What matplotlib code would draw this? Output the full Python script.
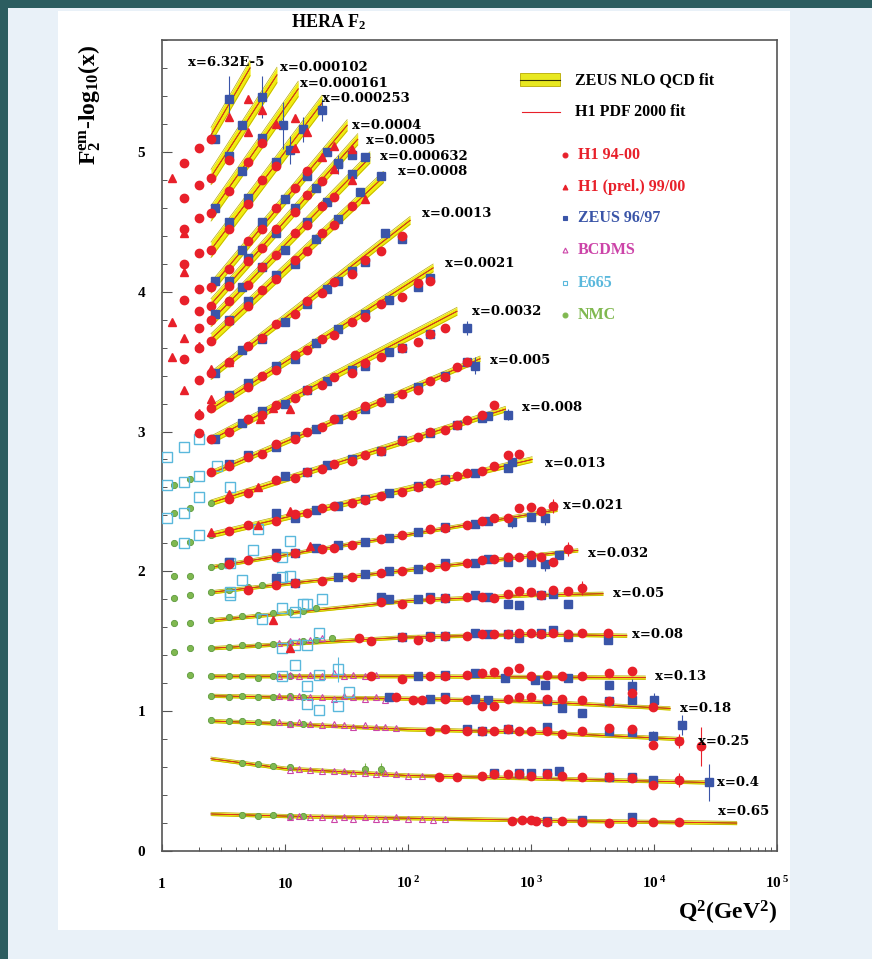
import matplotlib.pyplot as plt
import matplotlib.patches as mpatches
from matplotlib.ticker import LogLocator, MultipleLocator, NullFormatter
import numpy as np

plt.rcParams['font.family'] = ['Liberation Serif', 'DejaVu Serif']
plt.rcParams['mathtext.fontset'] = 'custom'
plt.rcParams['mathtext.rm'] = 'Liberation Serif'
plt.rcParams['mathtext.it'] = 'Liberation Serif:italic'
plt.rcParams['mathtext.bf'] = 'Liberation Serif:bold'

# x bins (labels), top to bottom
bins_x = ['6.32E-5', '0.000102', '0.000161', '0.000253', '0.0004', '0.0005', '0.000632',
          '0.0008', '0.0013', '0.0021', '0.0032', '0.005', '0.008', '0.013', '0.021',
          '0.032', '0.05', '0.08', '0.13', '0.18', '0.25', '0.4', '0.65']
label_q2 = [1.63, 9.1, 13.2, 20, 35, 45.6, 59, 83, 130, 200, 330, 465, 845, 1300, 1820,
            2900, 4640, 6620, 10200, 16300, 22800, 32500, 33100]
label_y = [5.64, 5.60, 5.49, 5.38, 5.19, 5.08, 4.97, 4.86, 4.56, 4.20, 3.86, 3.51, 3.17,
           2.77, 2.47, 2.13, 1.84, 1.55, 1.25, 1.02, 0.78, 0.49, 0.28]

# fits (knots)
fit_q2 = [[2.5, 5.2], [2.5, 8.6], [2.5, 12.8], [2.5, 20], [2.5, 32], [2.5, 39], [2.5, 49],
          [2.5, 63], [2.5, 104], [2.5, 160], [2.5, 250], [2.5, 385], [2.5, 620], [2.5, 1020],
          [2.5, 1630], [2.5, 100, 2400], [2.5, 10, 100, 1000, 3850],
          [2.5, 10, 100, 1000, 6000], [2.5, 100, 8500], [2.5, 10, 100, 1000, 13500],
          [2.5, 10, 100, 1000, 17300], [2.5, 10, 100, 1000, 28000],
          [2.5, 10, 100, 1000, 47000]]
fit_y = [[5.12, 5.60], [4.82, 5.55], [4.56, 5.45], [4.30, 5.35], [4.03, 5.19], [3.91, 5.09],
         [3.79, 4.96], [3.66, 4.82], [3.40, 4.51], [3.16, 4.17], [2.94, 3.86], [2.70, 3.52],
         [2.49, 3.16], [2.26, 2.80], [2.03, 2.44], [1.85, 2.01, 2.15],
         [1.65, 1.70, 1.79, 1.83, 1.84], [1.45, 1.48, 1.53, 1.55, 1.54], [1.25, 1.25, 1.24],
         [1.11, 1.10, 1.09, 1.07, 1.02], [0.93, 0.91, 0.87, 0.85, 0.80],
         [0.66, 0.59, 0.54, 0.52, 0.49], [0.265, 0.25, 0.235, 0.22, 0.20]]
band_w = [0.055] * 4 + [0.04] * 4 + [0.028] * 3 + [0.02] * 3 + [0.012] * 9

# H1 94-00
h1_q2 = [[1.5, 2.0, 2.5], [1.5, 2.0, 2.5, 3.5], [1.5, 2.0, 2.5, 3.5, 5.0, 6.5],
         [1.5, 2.0, 2.5, 3.5, 5.0, 6.5, 8.5], [1.5, 2.0, 2.5, 3.5, 5.0, 6.5, 8.5, 12, 15],
         [2.0, 2.5, 3.5, 5.0, 6.5, 8.5, 12, 15, 20],
         [2.0, 2.5, 3.5, 5.0, 6.5, 8.5, 12, 15, 20, 25],
         [1.5, 2.0, 2.5, 3.5, 5.0, 6.5, 8.5, 12, 15, 20, 25, 35],
         [2.0, 2.5, 3.5, 5.0, 6.5, 8.5, 12, 15, 20, 25, 35, 45, 60, 90],
         [2.0, 2.5, 3.5, 5.0, 6.5, 8.5, 12, 15, 20, 25, 35, 45, 60, 90, 120, 150],
         [2.0, 2.5, 3.5, 5.0, 6.5, 8.5, 12, 15, 20, 25, 35, 45, 60, 90, 120, 150, 200],
         [2.5, 3.5, 5.0, 6.5, 8.5, 12, 15, 20, 25, 35, 45, 60, 90, 120, 150, 200, 250, 300],
         [3.5, 5.0, 8.5, 12, 15, 20, 25, 35, 45, 60, 90, 120, 150, 200, 250, 300, 400, 500],
         [3.5, 5.0, 8.5, 12, 15, 20, 25, 35, 45, 60, 90, 120, 150, 200, 250, 300, 400, 500,
          650, 800],
         [3.5, 5.0, 8.5, 12, 20, 25, 35, 60, 90, 150, 200, 300, 400, 500, 650, 800, 1000,
          1200, 1500],
         [5.0, 8.5, 12, 20, 35, 60, 90, 150, 200, 300, 400, 500, 650, 800, 1000, 1200, 1500,
          2000],
         [60, 90, 150, 200, 300, 400, 500, 650, 800, 1000, 1200, 1500, 2000, 2600],
         [40, 50, 90, 120, 150, 200, 300, 400, 500, 650, 800, 1000, 1200, 1500, 2000, 2600,
          4200],
         [50, 90, 150, 200, 300, 400, 500, 650, 800, 1000, 1350, 1800, 2600, 4300, 6600],
         [80, 110, 130, 200, 300, 400, 500, 650, 800, 1000, 1350, 1800, 2600, 4300, 6600,
          9800],
         [150, 200, 300, 400, 500, 650, 800, 1000, 1350, 1800, 2600, 4300, 6600, 9800,
          16000, 24000],
         [180, 250, 400, 500, 650, 800, 1000, 1350, 1800, 2600, 4300, 6600, 9800, 16000],
         [700, 840, 1000, 1100, 1350, 1800, 2600, 4300, 6600, 9800, 16000]]
h1_y = [[4.92, 5.03, 5.09], [4.67, 4.76, 4.81, 4.94], [4.45, 4.53, 4.56, 4.72, 4.93, 5.06],
        [4.20, 4.28, 4.30, 4.45, 4.63, 4.80, 4.90],
        [3.94, 4.02, 4.03, 4.16, 4.36, 4.45, 4.60, 4.74, 4.86],
        [3.86, 3.90, 4.04, 4.22, 4.31, 4.45, 4.57, 4.69, 4.79],
        [3.74, 3.80, 3.93, 4.05, 4.18, 4.26, 4.42, 4.48, 4.61, 4.68],
        [3.52, 3.60, 3.65, 3.79, 3.90, 4.01, 4.09, 4.23, 4.29, 4.42, 4.48, 4.61],
        [3.37, 3.42, 3.50, 3.61, 3.67, 3.77, 3.84, 3.93, 3.99, 4.07, 4.13, 4.23, 4.29, 4.40],
        [3.12, 3.17, 3.25, 3.32, 3.40, 3.44, 3.55, 3.58, 3.66, 3.69, 3.78, 3.82, 3.91, 3.96,
         4.06, 4.08],
        [2.99, 2.95, 3.00, 3.09, 3.12, 3.19, 3.24, 3.30, 3.33, 3.39, 3.42, 3.49, 3.53, 3.60,
         3.64, 3.70, 3.74],
        [2.71, 2.75, 2.82, 2.84, 2.91, 2.95, 3.00, 3.03, 3.09, 3.12, 3.18, 3.21, 3.27, 3.30,
         3.36, 3.39, 3.46, 3.50],
        [2.52, 2.56, 2.65, 2.67, 2.71, 2.73, 2.77, 2.79, 2.83, 2.86, 2.93, 2.96, 3.00, 3.01,
         3.05, 3.08, 3.12, 3.19],
        [2.29, 2.33, 2.36, 2.41, 2.42, 2.45, 2.47, 2.49, 2.51, 2.54, 2.57, 2.60, 2.63, 2.65,
         2.68, 2.70, 2.72, 2.75, 2.83, 2.84],
        [2.05, 2.08, 2.10, 2.13, 2.16, 2.17, 2.19, 2.23, 2.26, 2.30, 2.31, 2.33, 2.36, 2.38,
         2.38, 2.45, 2.46, 2.43, 2.47],
        [1.87, 1.90, 1.92, 1.93, 1.96, 1.99, 2.00, 2.03, 2.04, 2.06, 2.08, 2.09, 2.10, 2.10,
         2.12, 2.10, 2.07, 2.16],
        [1.78, 1.77, 1.80, 1.81, 1.82, 1.82, 1.81, 1.84, 1.86, 1.85, 1.83, 1.87, 1.86, 1.88],
        [1.52, 1.50, 1.53, 1.51, 1.53, 1.54, 1.54, 1.55, 1.55, 1.55, 1.56, 1.56, 1.55, 1.56,
         1.55, 1.56, 1.56],
        [1.25, 1.23, 1.25, 1.25, 1.26, 1.27, 1.28, 1.29, 1.31, 1.25, 1.26, 1.25, 1.25, 1.27,
         1.29],
        [1.10, 1.08, 1.08, 1.09, 1.08, 1.04, 1.04, 1.09, 1.10, 1.10, 1.09, 1.09, 1.08, 1.07,
         1.13, 1.03],
        [0.86, 0.87, 0.86, 0.86, 0.86, 0.87, 0.86, 0.86, 0.86, 0.84, 0.86, 0.88, 0.87, 0.76,
         0.79, 0.75],
        [0.53, 0.53, 0.54, 0.55, 0.55, 0.55, 0.54, 0.55, 0.54, 0.53, 0.53, 0.52, 0.47, 0.51],
        [0.215, 0.22, 0.22, 0.215, 0.21, 0.215, 0.205, 0.20, 0.21, 0.205, 0.205]]

# H1 (prel.) 99/00
h1p_q2 = [[1.2, 3.5, 5.0], [5.0, 6.5], [1.5, 8.5, 12], [1.5, 12, 15], [20, 25],
          [1.2, 25, 35], [1.5, 35], [1.2, 2.0, 45], [1.5, 2.5, 3.5], [2.0, 2.5],
          [6.3, 8.0, 11], [3.5], [3.5, 6.0], [2.5, 6.0, 11], [16], [], [8.0], [11],
          [], [], [], [], []]
h1p_y = [[4.81, 5.25, 5.38], [5.14, 5.30], [4.42, 5.20, 5.24], [4.14, 5.03, 5.14],
         [4.96, 5.04], [3.78, 4.88, 5.02], [3.67, 4.80], [3.53, 3.61, 4.66],
         [3.30, 3.45, 3.50], [3.13, 3.23], [3.09, 3.17, 3.16], [2.77], [2.55, 2.60],
         [2.28, 2.33, 2.43], [2.18], [], [1.65], [1.45], [], [], [], [], []]

# ZEUS 96/97
zeus_q2 = [[2.7, 3.5], [3.5, 4.5, 6.5], [2.7, 4.5, 6.5, 9.6], [3.5, 5.0, 8.5, 11, 14, 20],
           [2.7, 4.5, 6.5, 10, 15, 22, 27], [3.5, 5.0, 8.5, 12, 18, 27, 35],
           [2.7, 4.5, 6.5, 10, 15, 22, 35, 45], [3.5, 5.0, 8.5, 12, 18, 27, 41, 60],
           [2.7, 4.5, 6.5, 10, 15, 22, 27, 35, 45, 65, 90],
           [3.5, 5.0, 8.5, 12, 18, 27, 45, 70, 120, 150],
           [2.7, 4.5, 6.5, 10, 15, 22, 35, 45, 70, 90, 150, 300],
           [3.5, 5.0, 8.5, 12, 18, 27, 45, 70, 120, 200, 300, 350],
           [10, 15, 22, 35, 60, 90, 150, 250, 400, 450, 650],
           [8.5, 12, 18, 27, 45, 70, 120, 200, 350, 650, 700],
           [3.5, 8.5, 12, 18, 27, 45, 70, 120, 200, 350, 450, 700, 1000, 1300],
           [8.5, 12, 27, 45, 70, 120, 200, 350, 450, 650, 1000, 1300, 1700],
           [60, 70, 120, 150, 200, 350, 450, 650, 800, 1200, 1500, 2000],
           [90, 150, 200, 350, 450, 650, 800, 1200, 1500, 2000, 4200],
           [120, 200, 350, 620, 1070, 1300, 2000, 4300, 6600],
           [70, 150, 200, 350, 450, 1350, 1800, 2600, 4300, 6600, 10000, 17000],
           [300, 400, 650, 1350, 4300, 6600, 9800],
           [500, 800, 1000, 1350, 1700, 4300, 6600, 9800, 28000],
           [1350, 2600, 6600]]
zeus_y = [[5.09, 5.38], [4.97, 5.19, 5.39], [4.60, 4.86, 5.10, 5.19],
          [4.50, 4.67, 4.93, 5.01, 5.16, 5.30], [4.08, 4.30, 4.50, 4.66, 4.83, 5.00, 4.91],
          [4.08, 4.24, 4.42, 4.60, 4.74, 4.92, 4.98],
          [3.84, 4.03, 4.18, 4.30, 4.50, 4.64, 4.84, 4.96],
          [3.80, 3.93, 4.12, 4.20, 4.38, 4.52, 4.71, 4.83],
          [3.42, 3.58, 3.66, 3.78, 3.91, 4.02, 4.08, 4.15, 4.21, 4.42, 4.38],
          [3.26, 3.35, 3.47, 3.52, 3.63, 3.73, 3.84, 3.94, 4.03, 4.10],
          [2.95, 3.06, 3.15, 3.20, 3.30, 3.36, 3.44, 3.47, 3.57, 3.60, 3.70, 3.74],
          [2.77, 2.83, 2.89, 2.97, 3.02, 3.09, 3.16, 3.24, 3.32, 3.40, 3.50, 3.47],
          [2.68, 2.71, 2.76, 2.80, 2.86, 2.94, 2.99, 3.05, 3.10, 3.11, 3.12],
          [2.42, 2.38, 2.44, 2.47, 2.52, 2.56, 2.61, 2.66, 2.70, 2.74, 2.78],
          [2.07, 2.13, 2.13, 2.17, 2.19, 2.21, 2.24, 2.28, 2.32, 2.34, 2.36, 2.35, 2.39, 2.38],
          [1.95, 1.92, 1.96, 1.98, 2.00, 2.02, 2.06, 2.06, 2.09, 2.07, 2.07, 2.05, 2.12],
          [1.82, 1.80, 1.80, 1.82, 1.81, 1.83, 1.82, 1.77, 1.76, 1.83, 1.84, 1.77],
          [1.53, 1.54, 1.54, 1.56, 1.55, 1.55, 1.52, 1.56, 1.58, 1.53, 1.51],
          [1.25, 1.26, 1.27, 1.24, 1.22, 1.19, 1.24, 1.19, 1.18],
          [1.10, 1.09, 1.10, 1.09, 1.08, 1.07, 1.02, 0.99, 1.07, 1.08, 1.08, 0.90],
          [0.87, 0.86, 0.87, 0.89, 0.86, 0.85, 0.82],
          [0.56, 0.56, 0.56, 0.56, 0.57, 0.53, 0.53, 0.51, 0.49],
          [0.215, 0.22, 0.24]]

# BCDMS
bcdms_q2 = [[]] * 17 + [[9, 11, 13, 16, 20],
                        [9, 11, 13, 16, 20, 25, 30, 36, 45, 55],
                        [9, 11, 13, 16, 20, 25, 30, 36, 45, 55, 65],
                        [9, 11, 13, 16, 20, 25, 30, 36, 45, 55, 65, 80],
                        [11, 13, 16, 20, 25, 30, 36, 45, 55, 65, 80, 100, 130],
                        [11, 13, 16, 20, 25, 30, 36, 45, 55, 65, 80, 100, 130, 160, 200]]
bcdms_y = [[]] * 17 + [[1.49, 1.50, 1.50, 1.51, 1.52],
                       [1.25, 1.26, 1.25, 1.26, 1.25, 1.27, 1.25, 1.26, 1.25, 1.26],
                       [1.11, 1.10, 1.11, 1.10, 1.10, 1.09, 1.11, 1.10, 1.09, 1.10, 1.08],
                       [0.92, 0.91, 0.92, 0.91, 0.90, 0.91, 0.90, 0.89, 0.90, 0.89, 0.89, 0.88],
                       [0.58, 0.59, 0.58, 0.57, 0.57, 0.57, 0.56, 0.56, 0.55, 0.56, 0.55, 0.54,
                        0.54],
                       [0.24, 0.25, 0.24, 0.24, 0.23, 0.24, 0.23, 0.24, 0.23, 0.23, 0.24, 0.23,
                        0.23, 0.22, 0.23]]

# E665
e665_q2 = [[]] * 10 + [[1.1, 1.5, 2.0], [1.1, 1.5, 2.0, 2.8], [1.1, 1.5, 2.0, 3.6],
                       [1.5, 2.0, 6.0, 11], [3.6, 5.5, 9.5, 11], [3.6, 4.5, 9.5, 14, 20],
                       [3.6, 6.5, 9.5, 12, 15], [9.5, 12, 15, 19], [9.5, 12, 15, 19, 27],
                       [15, 19, 27, 33], [], [], []]
e665_y = [[]] * 10 + [[2.82, 2.89, 2.95], [2.62, 2.64, 2.68, 2.75], [2.38, 2.42, 2.53, 2.60],
                      [2.20, 2.26, 2.30, 2.22], [2.06, 2.15, 2.10, 1.97],
                      [1.85, 1.94, 1.96, 1.77, 1.80], [1.83, 1.66, 1.74, 1.71, 1.77],
                      [1.45, 1.47, 1.47, 1.56], [1.25, 1.33, 1.18, 1.26, 1.30],
                      [1.05, 1.01, 1.04, 1.14], [], [], []]

# NMC
nmc_q2 = [[]] * 11 + [[1.25, 1.7, 2.5], [1.25, 1.7, 2.5], [1.25, 1.7, 2.5],
                      [1.25, 1.7, 2.5, 3.0], [1.25, 1.7, 2.5, 3.5, 5, 6.5, 8.5],
                      [1.25, 1.7, 2.5, 3.5, 4.5, 6, 8, 11, 14, 18],
                      [1.25, 1.7, 2.5, 3.5, 4.5, 6, 8, 11, 14, 18, 24],
                      [1.7, 2.5, 3.5, 4.5, 6, 8, 11], [2.5, 3.5, 4.5, 6, 8, 11, 14],
                      [2.5, 3.5, 4.5, 6, 8, 11, 14], [4.5, 6, 8, 11, 45, 60],
                      [4.5, 6, 8, 11, 14]]
nmc_y = [[]] * 11 + [[2.62, 2.66, 2.71], [2.42, 2.45, 2.49], [2.20, 2.21, 2.26],
                     [1.97, 1.97, 2.03, 2.04], [1.81, 1.83, 1.85, 1.87, 1.89, 1.90, 1.91],
                     [1.63, 1.63, 1.65, 1.67, 1.68, 1.69, 1.70, 1.71, 1.72, 1.74],
                     [1.42, 1.45, 1.45, 1.46, 1.47, 1.47, 1.48, 1.49, 1.50, 1.51, 1.52],
                     [1.26, 1.25, 1.25, 1.25, 1.24, 1.25, 1.25],
                     [1.11, 1.10, 1.11, 1.10, 1.10, 1.11, 1.10],
                     [0.94, 0.93, 0.93, 0.92, 0.92, 0.91, 0.91],
                     [0.63, 0.62, 0.61, 0.60, 0.59, 0.59], [0.26, 0.25, 0.26, 0.25, 0.25]]

# visible error bars
err_src = ['zeus', 'zeus', 'zeus', 'zeus', 'zeus', 'zeus', 'zeus', 'zeus', 'zeus', 'zeus',
           'zeus', 'zeus', 'zeus', 'h1', 'h1', 'h1', 'zeus', 'zeus', 'zeus', 'h1', 'h1',
           'zeus', 'h1', 'e665', 'nmc', 'nmc', 'zeus']
err_q2 = [3.5, 6.5, 9.6, 14, 11, 20, 27, 300, 350, 650, 700, 1300, 1300, 1500, 2000, 2600,
          6600, 10000, 17000, 16000, 24000, 28000, 16000, 27, 45, 60, 9800]
err_y = [5.38, 5.39, 5.19, 5.16, 5.01, 5.30, 4.91, 3.74, 3.47, 3.12, 2.35, 2.38, 2.05, 2.47,
         2.16, 1.88, 1.18, 1.08, 0.90, 0.79, 0.75, 0.49, 0.51, 1.30, 0.59, 0.59, 0.82]
err_size = [0.16, 0.15, 0.17, 0.09, 0.10, 0.08, 0.07, 0.05, 0.06, 0.04, 0.04, 0.05, 0.05,
            0.05, 0.05, 0.05, 0.05, 0.05, 0.07, 0.05, 0.14, 0.13, 0.05, 0.09, 0.04, 0.04,
            0.04]

c_h1 = '#e8202a'
c_zeus = '#3a55a8'
c_bcdms = '#cc44a8'
c_e665 = '#5ab8dc'
c_nmc = '#80b850'
src_col = {'h1': c_h1, 'zeus': c_zeus, 'e665': c_e665, 'nmc': c_nmc}

fig = plt.figure(figsize=(8.72, 9.59), dpi=100, facecolor='#e9f1f8')
fig.patches.append(mpatches.Rectangle((0.0665, 0.0302), 0.8394, 0.958, transform=fig.transFigure,
                                      facecolor='white', edgecolor='none', zorder=-2))
fig.patches.append(mpatches.Rectangle((0, 0), 0.0092, 1, transform=fig.transFigure,
                                      facecolor='#2c5d60', edgecolor='none', zorder=-1))
fig.patches.append(mpatches.Rectangle((0, 0.9917), 1, 0.0083, transform=fig.transFigure,
                                      facecolor='#2c5d60', edgecolor='none', zorder=-1))

ax = fig.add_axes([0.1858, 0.1126, 0.7053, 0.8457])
ax.set_facecolor('white')
ax.set_xscale('log')
ax.set_xlim(1, 1e5)
ax.set_ylim(0, 5.8)

# fits
for k in range(len(bins_x)):
    q = np.array(fit_q2[k])
    f = np.array(fit_y[k])
    w = band_w[k]
    ax.fill_between(q, f - w, f + w, color='#f0ec10', lw=0, zorder=2)
    ax.plot(q, f - w, color='#b8aa00', lw=0.5, zorder=2)
    ax.plot(q, f + w, color='#b8aa00', lw=0.5, zorder=2)
    ax.plot(q, f, color='#333300', lw=0.5, zorder=3)
    ax.plot(q, f, color='#e83020', lw=0.7, zorder=3)
    ax.text(label_q2[k], label_y[k], 'x=' + bins_x[k], fontsize=9.5, fontweight='bold',
            family='DejaVu Serif', ha='left', va='center', zorder=6)

# error bars
for s, q, y, e in zip(err_src, err_q2, err_y, err_size):
    ax.errorbar([q], [y], yerr=[e], fmt='none', ecolor=src_col[s], elinewidth=0.8,
                capsize=0, zorder=4)

# data
for k in range(len(bins_x)):
    ax.plot(nmc_q2[k], nmc_y[k], 'o', ms=4.5, mfc=c_nmc, mec='#5c9a3c', mew=0.6, zorder=4)
    ax.plot(bcdms_q2[k], bcdms_y[k], '^', ms=4.5, mfc='none', mec=c_bcdms, mew=0.8, zorder=4)
    ax.plot(e665_q2[k], e665_y[k], 's', ms=7, mfc='none', mec=c_e665, mew=1.0, zorder=4)
    ax.plot(zeus_q2[k], zeus_y[k], 's', ms=5.5, mfc=c_zeus, mec=c_zeus, zorder=5)
    ax.plot(h1p_q2[k], h1p_y[k], '^', ms=5.5, mfc=c_h1, mec=c_h1, zorder=5)
    ax.plot(h1_q2[k], h1_y[k], 'o', ms=6, mfc=c_h1, mec=c_h1, zorder=5)

# legend (drawn by hand)
ax.add_patch(mpatches.Rectangle((0.582, 0.943), 0.065, 0.016, transform=ax.transAxes,
                                facecolor='#e8e820', edgecolor='#b8aa00', lw=0.6, zorder=6))
ax.plot([0.582, 0.647], [0.951, 0.951], color='#333300', lw=0.8, transform=ax.transAxes,
        zorder=7)
ax.plot([0.585, 0.647], [0.911, 0.911], color=c_h1, lw=0.8, transform=ax.transAxes, zorder=7)
ax.text(0.672, 0.951, 'ZEUS NLO QCD fit', transform=ax.transAxes, fontsize=11.5,
        fontweight='bold', va='center', zorder=7)
ax.text(0.672, 0.911, 'H1 PDF 2000 fit', transform=ax.transAxes, fontsize=11.5,
        fontweight='bold', va='center', zorder=7)
leg_names = ['H1 94-00', 'H1 (prel.) 99/00', 'ZEUS 96/97', 'BCDMS', 'E665', 'NMC']
leg_marks = ['o', '^', 's', '^', 's', 'o']
leg_cols = [c_h1, c_h1, c_zeus, c_bcdms, c_e665, c_nmc]
leg_fill = [True, True, True, False, False, True]
leg_y = [0.858, 0.819, 0.780, 0.741, 0.700, 0.661]
for name, m, c, fl, yy in zip(leg_names, leg_marks, leg_cols, leg_fill, leg_y):
    ax.plot([0.655], [yy], m, ms=3.5, mfc=c if fl else 'none', mec=c, mew=0.8,
            transform=ax.transAxes, zorder=7)
    ax.text(0.676, yy, name, transform=ax.transAxes, fontsize=11.5, fontweight='bold',
            color=c, va='center', zorder=7)

# axes styling
for sp in ax.spines.values():
    sp.set_color('#555555')
    sp.set_linewidth(1.2)
ax.xaxis.set_major_locator(LogLocator(base=10, numticks=10))
ax.xaxis.set_minor_locator(LogLocator(base=10, subs=np.arange(2, 10), numticks=20))
ax.xaxis.set_major_formatter(NullFormatter())
ax.xaxis.set_minor_formatter(NullFormatter())
ax.yaxis.set_major_locator(MultipleLocator(1))
ax.yaxis.set_minor_locator(MultipleLocator(0.2))
ax.tick_params(axis='x', which='major', direction='in', length=5, width=0.8, color='#555555')
ax.tick_params(axis='x', which='minor', direction='in', length=3, width=0.7, color='#555555')
ax.tick_params(axis='y', which='major', direction='in', length=7, width=0.8, color='#555555',
               pad=12, labelsize=11)
ax.tick_params(axis='y', which='minor', direction='in', length=3.5, width=0.7,
               color='#555555')
for lab in ax.get_yticklabels():
    lab.set_fontweight('bold')

xtick_vals = [1, 10, 100, 1000, 10000, 100000]
xtick_txt = ['1', '10', r'$\mathbf{10^{\ 2}}$', r'$\mathbf{10^{\ 3}}$', r'$\mathbf{10^{\ 4}}$',
             r'$\mathbf{10^{\ 5}}$']
for v, t in zip(xtick_vals, xtick_txt):
    ax.text(v, -0.046, t, transform=ax.get_xaxis_transform(), ha='center', va='baseline',
            fontsize=11, fontweight='bold')

fig.text(0.377, 0.977, r'HERA F$_\mathbf{2}$', ha='center', va='center', fontsize=13,
         fontweight='bold')
fig.text(0.103, 0.953, r'$\mathbf{F_2^{em}}$-$\mathbf{log_{10}(x)}$', rotation=90,
         ha='center', va='top', fontsize=17)
fig.text(0.891, 0.048, r'$\mathbf{Q^2(GeV^2)}$', ha='right', va='center', fontsize=17)

fig.savefig('out.png', dpi=100, facecolor=fig.get_facecolor())
